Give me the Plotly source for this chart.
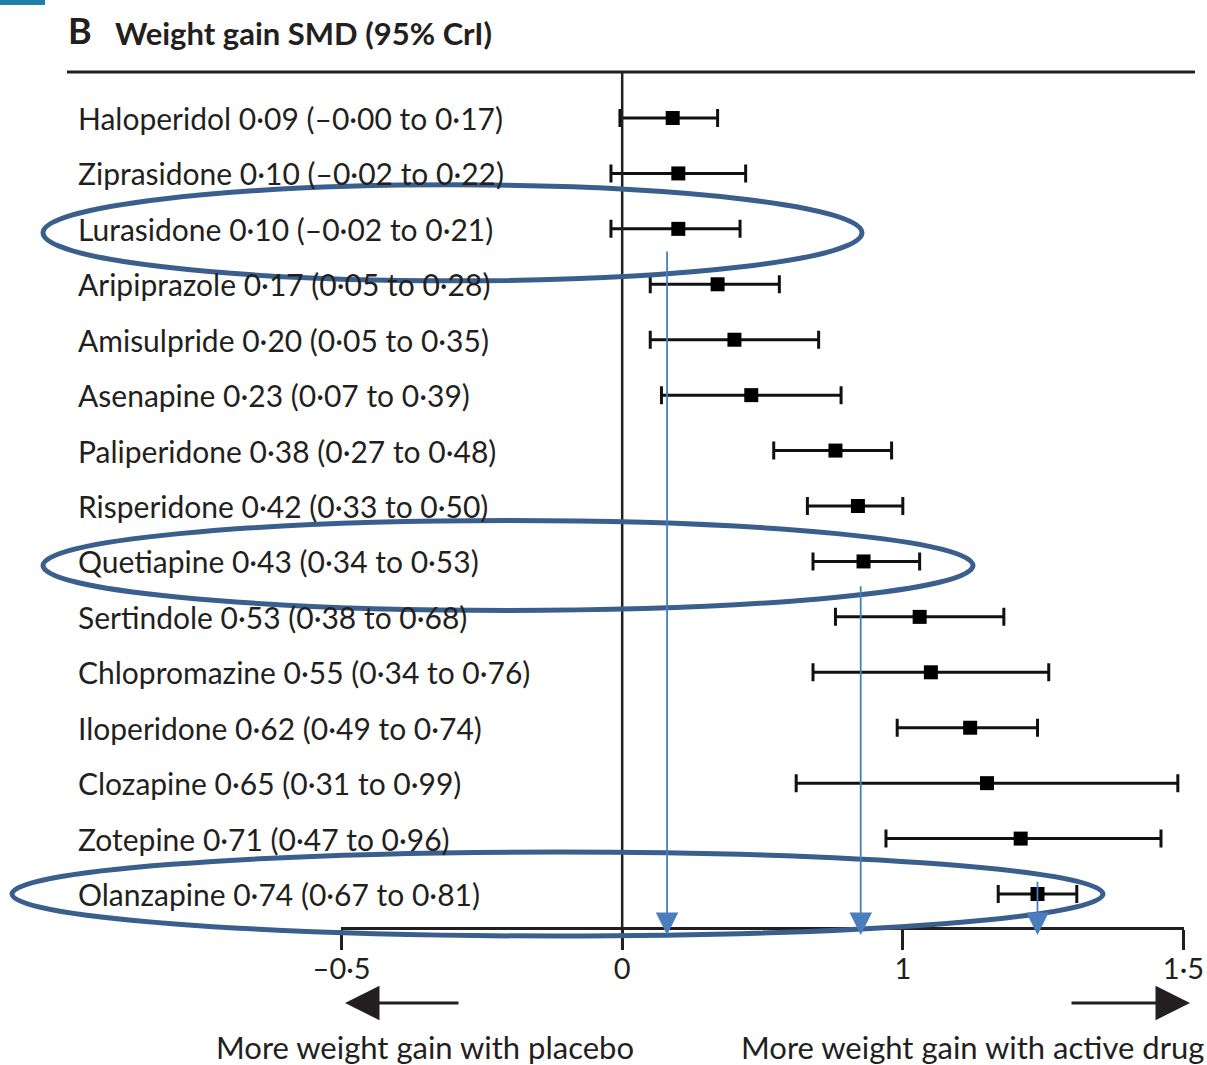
import plotly.graph_objects as go

# ---------------- data ----------------
drugs = ["Haloperidol", "Ziprasidone", "Lurasidone", "Aripiprazole", "Amisulpride",
         "Asenapine", "Paliperidone", "Risperidone", "Quetiapine", "Sertindole",
         "Chlopromazine", "Iloperidone", "Clozapine", "Zotepine", "Olanzapine"]
smd = [0.09, 0.10, 0.10, 0.17, 0.20, 0.23, 0.38, 0.42, 0.43, 0.53, 0.55, 0.62, 0.65, 0.71, 0.74]
lower = [-0.004, -0.02, -0.02, 0.05, 0.05, 0.07, 0.27, 0.33, 0.34, 0.38, 0.34, 0.49, 0.31, 0.47, 0.67]
upper = [0.17, 0.22, 0.21, 0.28, 0.35, 0.39, 0.48, 0.50, 0.53, 0.68, 0.76, 0.74, 0.99, 0.96, 0.81]
tick_vals = [-0.5, 0, 0.5, 1.0]
tick_text = ["\u20130\u00b75", "0", "1", "1\u00b75"]
highlighted = ["Lurasidone", "Quetiapine", "Olanzapine"]
title_letter = "B"
title_text = "Weight gain SMD (95% CrI)"
left_note = "More weight gain with placebo"
right_note = "More weight gain with active drug"

# ---------------- layout constants ----------------
W, H = 1207, 1065
FONT = "Lato"
INK = "#231f20"
ELL = "#3a5f8c"
ARR = "#4a7ebf"
ROW0, ROWSTEP = 118.0, 55.43          # pixel y of first row, row spacing
X_LO, X_HI = 341.0, 1184.0             # pixel x of axis ends (-0.5 and 1.0)
AXIS_Y = 928.0


def fmt(v):
    s = f"{v:.2f}".replace(".", "\u00b7")
    return s.replace("-", "\u2013")


def px(x):
    return x / W


def py(y):
    return 1 - y / H


rows = list(range(len(drugs)))
labels = [f"{d} {fmt(m)} ({fmt(l)} to {fmt(u)})" for d, m, l, u in zip(drugs, smd, lower, upper)]

fig = go.Figure()
fig.add_trace(go.Scatter(
    x=smd, y=rows, mode="markers",
    marker=dict(symbol="square", size=14, color="black"),
    error_x=dict(type="data", symmetric=False,
                 array=[u - m for u, m in zip(upper, smd)],
                 arrayminus=[m - l for m, l in zip(smd, lower)],
                 color="#111111", thickness=3, width=9),
    cliponaxis=False, showlegend=False, hoverinfo="skip"))

yr = [(H - ROW0) / ROWSTEP, -ROW0 / ROWSTEP]

fig.update_layout(
    width=W, height=H, margin=dict(l=0, r=0, t=0, b=0, pad=0, autoexpand=False),
    paper_bgcolor="white", plot_bgcolor="white",
    font=dict(family=FONT, color=INK),
    xaxis=dict(domain=[px(X_LO), px(X_HI)], range=[-0.501, 1.001],
               anchor="free", position=py(AXIS_Y), automargin=False,
               tickvals=tick_vals, ticktext=tick_text,
               showline=True, linewidth=3, linecolor=INK,
               ticks="outside", ticklen=20, tickwidth=3, tickcolor=INK,
               ticklabelstandoff=-6,
               tickfont=dict(family=FONT, size=29, color=INK),
               showgrid=False, zeroline=False),
    yaxis=dict(domain=[0, 1], range=yr, visible=False, showgrid=False, zeroline=False,
               automargin=False),
)

shapes = []
# top rule
shapes.append(dict(type="line", xref="paper", yref="paper", x0=px(67), x1=px(1195),
                   y0=py(72), y1=py(72), line=dict(color=INK, width=3)))
# zero line
shapes.append(dict(type="line", xref="x", yref="paper", x0=0, x1=0,
                   y0=py(72), y1=py(948), line=dict(color=INK, width=2.5)))
# small blue bar top-left
shapes.append(dict(type="rect", xref="paper", yref="paper", x0=0, x1=px(45),
                   y0=py(0), y1=py(5), line=dict(width=0), fillcolor="#1f7fa8"))
# ellipses around highlighted rows
ell_ext = {"Lurasidone": (43, 862, 48), "Quetiapine": (43, 973, 45), "Olanzapine": (12, 1103, 42)}
for name in highlighted:
    r = drugs.index(name)
    x0, x1, ry = ell_ext[name]
    yc = ROW0 + ROWSTEP * r + (4 if name != "Olanzapine" else 0)
    shapes.append(dict(type="circle", xref="paper", yref="paper",
                       x0=px(x0), x1=px(x1), y0=py(yc - ry), y1=py(yc + ry),
                       line=dict(color=ELL, width=5)))
fig.update_layout(shapes=shapes)

ann = []
# row labels
for r, lab in zip(rows, labels):
    ann.append(dict(x=px(76), y=r, xref="paper", yref="y", text=lab, showarrow=False,
                    xanchor="left", yanchor="middle", font=dict(family=FONT, size=30, color=INK)))
# title
ann.append(dict(x=px(66), y=py(30), xref="paper", yref="paper", text=f"<b>{title_letter}</b>",
                showarrow=False, xanchor="left", yanchor="middle",
                font=dict(family=FONT, size=36, color=INK)))
ann.append(dict(x=px(113), y=py(33), xref="paper", yref="paper", text=f"<b>{title_text}</b>",
                showarrow=False, xanchor="left", yanchor="middle",
                font=dict(family=FONT, size=31, color=INK)))
# bottom notes
ann.append(dict(x=px(425), y=py(1047), xref="paper", yref="paper", text=left_note,
                showarrow=False, xanchor="center", yanchor="middle",
                font=dict(family=FONT, size=31, color=INK)))
ann.append(dict(x=px(972), y=py(1047), xref="paper", yref="paper", text=right_note,
                showarrow=False, xanchor="center", yanchor="middle",
                font=dict(family=FONT, size=31, color=INK)))
# black direction arrows
ann.append(dict(x=px(345), y=py(1003), ax=115, ay=0, xref="paper", yref="paper",
                axref="pixel", ayref="pixel", text="", showarrow=True,
                arrowhead=2, arrowsize=2.3, arrowwidth=3, arrowcolor=INK))
ann.append(dict(x=px(1190), y=py(1003), ax=-120, ay=0, xref="paper", yref="paper",
                axref="pixel", ayref="pixel", text="", showarrow=True,
                arrowhead=2, arrowsize=2.3, arrowwidth=3, arrowcolor=INK))
# blue vertical arrows from highlighted estimates to axis
arrow_start = {"Lurasidone": (0.08, 0.38), "Quetiapine": (0.425, 0.42), "Olanzapine": (0.74, -0.25)}
for name in highlighted:
    r = drugs.index(name)
    xv, dy = arrow_start[name]
    ann.append(dict(x=xv, y=(935 - ROW0) / ROWSTEP, ax=xv, ay=r + dy, xref="x", yref="y",
                    axref="x", ayref="y", text="", showarrow=True,
                    arrowhead=2, arrowsize=2.5, arrowwidth=1.8, arrowcolor=ARR))
fig.update_layout(annotations=ann)

fig.write_html("out.html")
